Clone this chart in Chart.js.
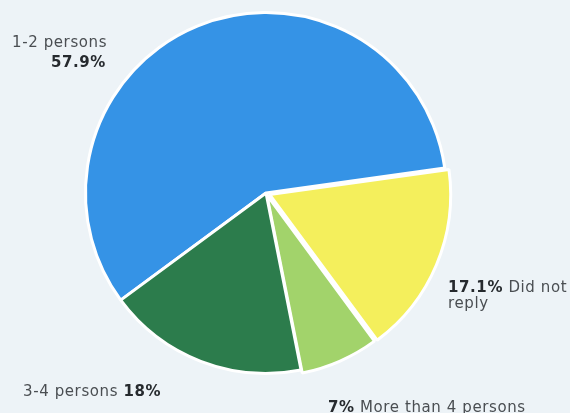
<!DOCTYPE html>
<html>
<head>
<meta charset="utf-8">
<script src="https://cdn.jsdelivr.net/npm/chart.js@4"></script>
<style>
  html, body { margin: 0; padding: 0; background: #edf3f7; }
  #wrap { width: 570px; height: 413px; }
</style>
</head>
<body>
<div id="wrap"><canvas id="pieChart" width="570" height="413"></canvas></div>
<script>
const categories = ["1-2 persons", "Did not reply", "More than 4 persons", "3-4 persons"];
const shares = [57.9, 17.1, 7, 18];
const sliceColors = ["#3593e6", "#f4ef5c", "#a2d36b", "#2c7c4c"];

// label text drawn beside the pie, as in the printed figure
const labelPlugin = {
  id: "sideLabels",
  afterDraw(chart) {
    const ctx = chart.ctx;
    ctx.save();
    ctx.textBaseline = "alphabetic";
    ctx.letterSpacing = "0.6px";
    const normal = "15px 'DejaVu Sans', Verdana, sans-serif";
    const bold = "bold 15px 'DejaVu Sans', Verdana, sans-serif";
    const pct = i => shares[i] + "%";

    function runs(x, y, parts) {
      let cx = x;
      parts.forEach(p => {
        ctx.font = p.b ? bold : normal;
        ctx.fillStyle = p.b ? "#262a2e" : "#4a4e52";
        ctx.fillText(p.t, cx, y);
        cx += ctx.measureText(p.t).width;
      });
    }

    ctx.textAlign = "left";
    runs(12, 47, [{ t: categories[0] }]);
    ctx.font = bold;
    ctx.fillStyle = "#262a2e";
    ctx.textAlign = "right";
    ctx.fillText(pct(0), 106, 67);
    ctx.textAlign = "left";
    runs(448, 292, [{ t: pct(1), b: true }, { t: " Did not" }]);
    runs(448, 308, [{ t: "reply" }]);
    runs(23, 396, [{ t: categories[3] + " " }, { t: pct(3), b: true }]);
    runs(328, 412, [{ t: pct(2), b: true }, { t: " " + categories[2] }]);
    ctx.restore();
  }
};

new Chart(document.getElementById("pieChart"), {
  type: "pie",
  data: {
    labels: categories,
    datasets: [{
      data: shares,
      backgroundColor: sliceColors,
      borderColor: "#ffffff",
      borderWidth: 3,
      offset: [0, 16, 8, 0]
    }]
  },
  options: {
    responsive: false,
    animation: false,
    rotation: -126.4,
    layout: { padding: { top: 3, bottom: 30, left: 0, right: 38 } },
    plugins: {
      legend: { display: false },
      tooltip: { enabled: false }
    }
  },
  plugins: [labelPlugin]
});
</script>
</body>
</html>
